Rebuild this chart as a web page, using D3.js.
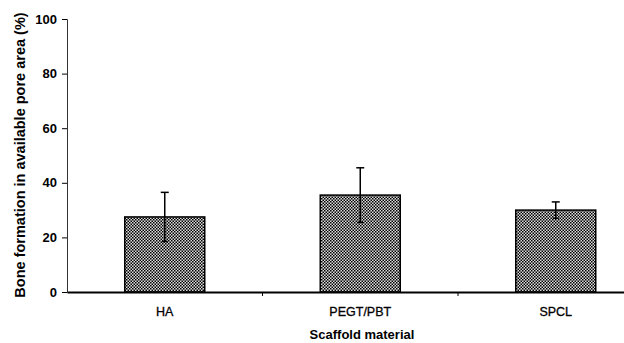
<!DOCTYPE html>
<html>
<head>
<meta charset="utf-8">
<script src="https://cdn.jsdelivr.net/npm/d3@7"></script>
<style>
  body { margin: 0; background: #fff; }
  text { font-family: "Liberation Sans", Arial, sans-serif; fill: #000; }
</style>
</head>
<body>
<div id="root"></div>
<script>
// data
const materials = ["HA", "PEGT/PBT", "SPCL"];
const boneFormation = [27.5, 35.5, 30];
const errors = [9, 10, 3];
const yTicks = [0, 20, 40, 60, 80, 100];

const svg = d3.select("#root").append("svg")
  .attr("width", 624)
  .attr("height", 343);

const margin = { top: 19, left: 67 };
const plotBottom = 292;

const x = d3.scaleBand()
  .domain(materials)
  .range([margin.left, margin.left + 3 * 195.5]);

const y = d3.scaleLinear().domain([0, 100]).range([plotBottom, margin.top]);

// checkered fill like the print
const pat = svg.append("defs").append("pattern")
  .attr("id", "checks")
  .attr("patternUnits", "userSpaceOnUse")
  .attr("width", 3)
  .attr("height", 3);
pat.append("rect").attr("width", 3).attr("height", 3).attr("fill", "#dcdcdc");
pat.append("rect").attr("width", 1.5).attr("height", 1.5).attr("fill", "#000");
pat.append("rect").attr("x", 1.5).attr("y", 1.5).attr("width", 1.5).attr("height", 1.5).attr("fill", "#000");

const barW = 80;
const rows = materials.map((m, i) => ({ m, v: boneFormation[i], e: errors[i] }));

svg.append("g").selectAll("rect")
  .data(rows)
  .join("rect")
  .attr("x", d => x(d.m) + x.bandwidth() / 2 - barW / 2)
  .attr("y", d => y(d.v))
  .attr("width", barW)
  .attr("height", d => y(0) - y(d.v))
  .attr("fill", "url(#checks)")
  .attr("stroke", "#000")
  .attr("stroke-width", 1.5);

// error bars
const eb = svg.append("g").attr("stroke", "#000").attr("stroke-width", 1.5);
rows.forEach(d => {
  const cx = x(d.m) + x.bandwidth() / 2;
  eb.append("line").attr("x1", cx).attr("x2", cx).attr("y1", y(d.v + d.e)).attr("y2", y(d.v - d.e));
  eb.append("line").attr("x1", cx - 4).attr("x2", cx + 4).attr("y1", y(d.v + d.e)).attr("y2", y(d.v + d.e));
  eb.append("line").attr("x1", cx - 3).attr("x2", cx + 3).attr("y1", y(d.v - d.e)).attr("y2", y(d.v - d.e));
});

// y axis
const yAxis = svg.append("g")
  .attr("transform", `translate(${margin.left},0)`)
  .call(d3.axisLeft(y).tickValues(yTicks).tickSize(5).tickPadding(5));
yAxis.select(".domain").attr("stroke", "#333").attr("stroke-width", 1);
yAxis.selectAll("text").style("font-size", "13px").style("font-weight", "bold");

// x axis
const xAxis = svg.append("g")
  .attr("transform", `translate(0,${plotBottom})`)
  .call(d3.axisBottom(x).tickSize(0).tickPadding(15));
xAxis.select(".domain").attr("stroke", "#000").attr("stroke-width", 2);
xAxis.selectAll("text").style("font-size", "12.5px").style("font-weight", "normal")
  .style("stroke", "#000").style("stroke-width", 0.3);

// ticks at category boundaries
svg.append("g").selectAll("line")
  .data(materials.slice(1))
  .join("line")
  .attr("x1", d => x(d)).attr("x2", d => x(d))
  .attr("y1", plotBottom).attr("y2", plotBottom + 4)
  .attr("stroke", "#000");

svg.append("text")
  .attr("x", 362)
  .attr("y", 339)
  .attr("text-anchor", "middle")
  .style("font-size", "13px")
  .style("font-weight", "bold")
  .text("Scaffold material");

svg.append("text")
  .attr("transform", "translate(25,155) rotate(-90)")
  .attr("text-anchor", "middle")
  .style("font-size", "14.5px")
  .style("font-weight", "bold")
  .text("Bone formation in available pore area (%)");
</script>
</body>
</html>
